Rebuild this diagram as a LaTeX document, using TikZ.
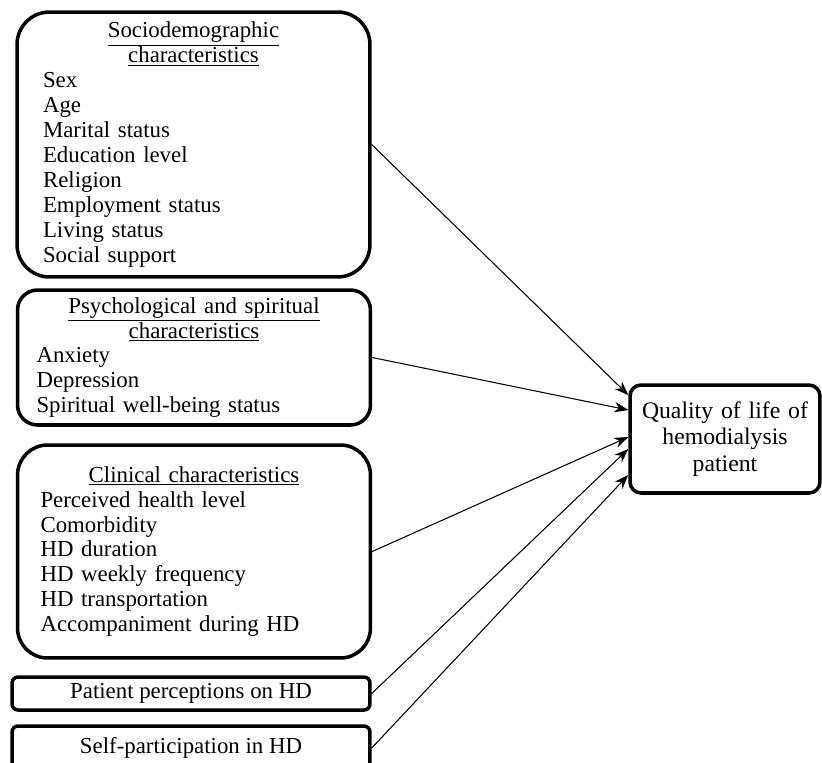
\documentclass[tikz,border=0pt]{standalone}
\usepackage{fontspec}
\setmainfont{Liberation Serif}
\usepackage{tikz}
\usetikzlibrary{arrows.meta, positioning}
\tikzstyle{arrow} = [line width=0.6pt, -{Stealth[length=8pt,width=6pt]}]
\tikzstyle{factor} = [rectangle, draw, line width=2pt, inner ysep=0pt, align=left, font=\fontsize{13}{14.2}\selectfont]
\newcommand{\heading}[1]{\makebox[\hsize]{\underline{#1}}}
\setlength{\parindent}{0pt}

\begin{document}
\begin{tikzpicture}[x=0.02cm, y=-0.02cm]
\useasboundingbox (0,0) rectangle (822,762);

\node (socio) [factor, rounded corners=0.65cm, text width=6.02cm, inner xsep=0.52cm, minimum height=5.3cm] at (193.5,144.5)
  {\heading{Sociodemographic}\\ \heading{characteristics}\\ Sex\\ Age\\ Marital status\\ Education level\\ Religion\\ Employment status\\ Living status\\ Social support};
\node (psych) [factor, rounded corners=0.4cm, text width=6.3cm, inner xsep=0.38cm, minimum height=2.7cm] at (194,357.5)
  {\heading{Psychological and spiritual}\\ \heading{characteristics}\\ Anxiety\\ Depression\\ Spiritual well-being status};
\node (clinical) [factor, rounded corners=0.6cm, text width=6.14cm, inner xsep=0.46cm, minimum height=4.26cm] at (194,551.5)
  {\heading{Clinical characteristics}\\ Perceived health level\\ Comorbidity\\ HD duration\\ HD weekly frequency\\ HD transportation\\ Accompaniment during HD};
\node (percep) [factor, rounded corners=0.12cm, align=center, minimum width=7.16cm, minimum height=0.66cm] at (191,693.5) {Patient perceptions on HD};
\node (selfpart) [factor, rounded corners=0.12cm, align=center, minimum width=7.16cm, minimum height=0.88cm] at (191,748) {Self-participation in HD};

\node (quality) [factor, rounded corners=0.22cm, align=center, text width=3.4cm, inner xsep=0.2cm, minimum height=2.16cm, font=\fontsize{13.5}{15}\selectfont] at (725,439)
  {Quality of life of\\ hemodialysis\\ patient};

\draw[arrow] (socio.east) -- ([yshift=0.88cm]quality.west);
\draw[arrow] (psych.east) -- ([yshift=0.58cm]quality.west);
\draw[arrow] (clinical.east) -- ([yshift=0.04cm]quality.west);
\draw[arrow] (percep.east) -- ([yshift=-0.2cm]quality.west);
\draw[arrow] (selfpart.east) -- ([yshift=-0.72cm]quality.west);
\end{tikzpicture}
\end{document}
